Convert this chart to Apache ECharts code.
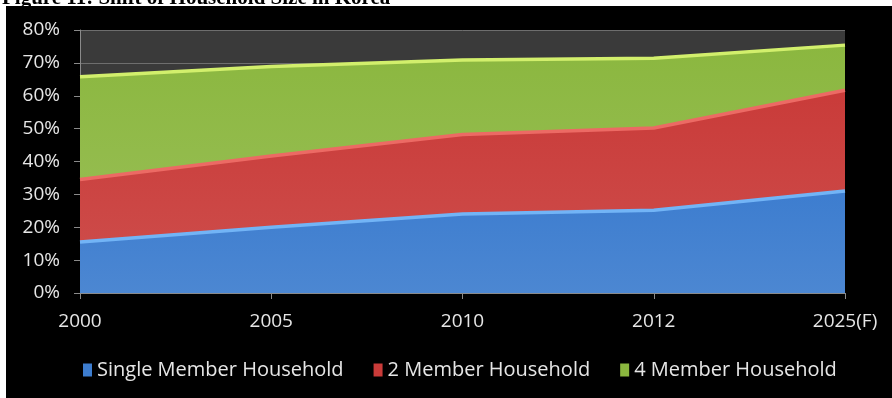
<!DOCTYPE html>
<html>
<head>
<meta charset="utf-8">
<script src="https://cdn.jsdelivr.net/npm/echarts@6/dist/echarts.min.js"></script>
<style>
  html, body { margin: 0; padding: 0; background: #ffffff; }
  #wrap { position: relative; width: 892px; height: 398px; overflow: hidden; }
  #panel { position: absolute; left: 6px; top: 6px; right: 0; bottom: 0; background: #000000; }
  #chart { position: absolute; left: 0; top: 0; width: 892px; height: 398px; }
</style>
</head>
<body>
<div id="wrap">
  <div id="panel"></div>
  <div id="chart"></div>
</div>
<script>
// Household share by size, stacked (percent of all households)
const years = ['2000', '2005', '2010', '2012', '2025(F)'];
const singleMember = [15.5, 20.0, 24.0, 25.2, 31.0];
const twoMember = [19.0, 21.7, 24.2, 25.0, 30.7];
const fourMember = [31.3, 27.2, 22.7, 21.2, 13.7];
const seriesNames = ['Single Member Household', '2 Member Household', '4 Member Household'];
const yTicks = { min: 0, max: 80, step: 10 };

const fill = ['#3d7dcf', '#c93b39', '#8bb73f'];
const ridge = ['#72b4f6', '#ec6a64', '#d2ef6c'];
const font = '"Open Sans"';

function layer(name, data, i) {
  return {
    name: name,
    type: 'line',
    stack: 'households',
    data: data,
    symbol: 'none',
    silent: true,
    lineStyle: { color: ridge[i], width: 3.5 },
    itemStyle: { color: fill[i] },
    areaStyle: {
      opacity: 1,
      color: new echarts.graphic.LinearGradient(0, 0, 0, 1, [
        { offset: 0, color: fill[i] },
        { offset: 1, color: echarts.color.lift(fill[i], 0.08) }
      ])
    },
    z: 2 + (2 - i)
  };
}

const chart = echarts.init(document.getElementById('chart'), null, { renderer: 'canvas' });
chart.setOption({
  backgroundColor: 'transparent',
  animation: false,
  textStyle: { fontFamily: font },
  graphic: [{
    type: 'text',
    left: 2,
    top: -12,
    style: {
      text: 'Figure 11: Shift of Household Size in Korea',
      font: 'bold 21px "Liberation Serif"',
      fill: '#000000'
    }
  }],
  grid: {
    left: 80, right: 47, top: 30, bottom: 105,
    show: true, backgroundColor: '#3a3a3a', borderWidth: 0
  },
  legend: {
    top: 355,
    left: 78,
    data: seriesNames,
    icon: 'rect',
    itemWidth: 9,
    itemHeight: 13,
    itemGap: 30,
    textStyle: { color: '#e6e6e6', fontSize: 20, fontFamily: font }
  },
  xAxis: {
    type: 'category',
    data: years,
    boundaryGap: false,
    axisLine: { lineStyle: { color: '#8a8a8a', width: 1 } },
    axisTick: { show: true, length: 6, lineStyle: { color: '#8a8a8a' } },
    axisLabel: { color: '#e6e6e6', fontSize: 19, margin: 19, fontFamily: font },
    splitLine: { show: false }
  },
  yAxis: {
    type: 'value',
    min: yTicks.min,
    max: yTicks.max,
    interval: yTicks.step,
    axisLine: { show: true, lineStyle: { color: '#8a8a8a', width: 1 } },
    axisTick: { show: true, length: 6, lineStyle: { color: '#8a8a8a' } },
    axisLabel: { color: '#e6e6e6', fontSize: 19, margin: 20, formatter: '{value}%', fontFamily: font },
    splitLine: { show: true, lineStyle: { color: '#6e6e6e', width: 1 } }
  },
  series: [
    layer(seriesNames[0], singleMember, 0),
    layer(seriesNames[1], twoMember, 1),
    layer(seriesNames[2], fourMember, 2)
  ]
});
</script>
</body>
</html>
